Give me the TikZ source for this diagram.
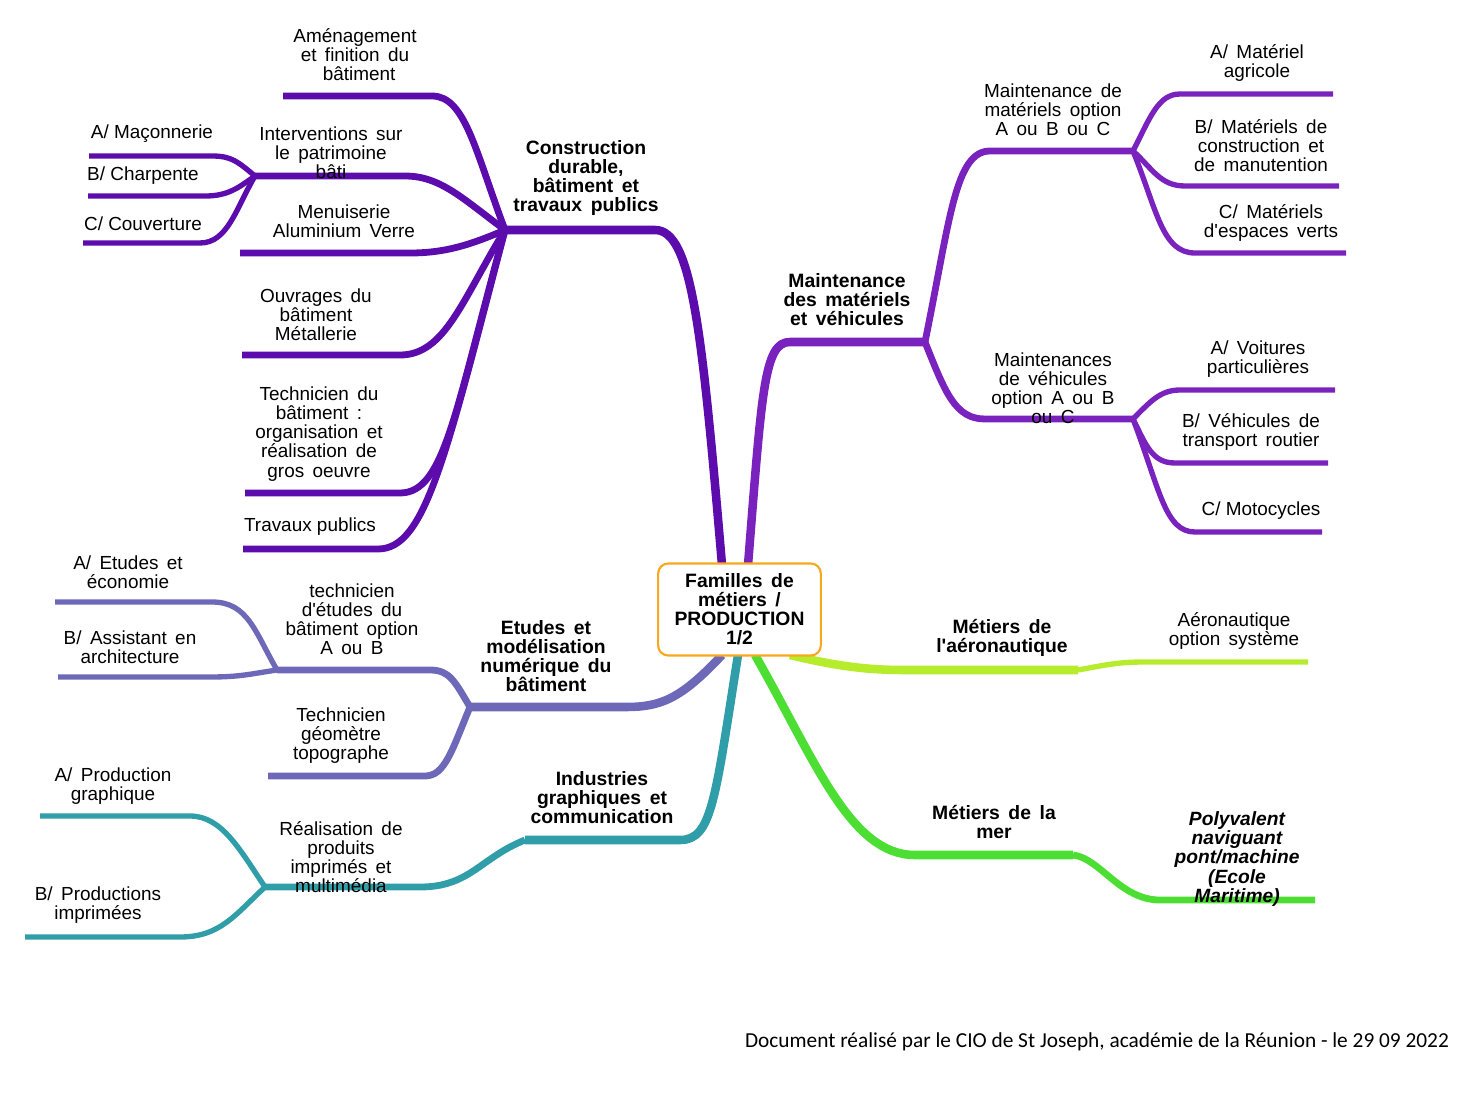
\documentclass[tikz,border=0pt]{standalone}
\usepackage{fontspec}
\setmainfont{Liberation Sans}
\newfontfamily\lab[WordSpace=1.6]{Liberation Sans}
\newfontfamily\labn[Scale=0.9995]{Liberation Sans}
\newfontfamily\footfont{Carlito}
\definecolor{cC}{RGB}{92,12,172}
\definecolor{cM}{RGB}{122,34,190}
\definecolor{cE}{RGB}{110,104,184}
\definecolor{cT}{RGB}{48,158,168}
\definecolor{cA}{RGB}{182,236,44}
\definecolor{cG}{RGB}{76,222,50}
\definecolor{cO}{RGB}{246,168,30}
\tikzset{
  lbl/.style={font=\lab\fontsize{14.2}{14.3}\selectfont, align=center, inner sep=0pt, text=black, yshift=-1.5pt},
  lbln/.style={font=\labn\fontsize{14.2}{14.3}\selectfont, align=center, inner sep=0pt, text=black, yshift=-1.5pt},
  blbl/.style={font=\lab\bfseries\fontsize{14.5}{14.3}\selectfont, align=center, inner sep=0pt, text=black, yshift=-1.5pt},
  bilbl/.style={font=\lab\bfseries\itshape\fontsize{14.4}{14.3}\selectfont, align=center, inner sep=0pt, text=black, yshift=-1.5pt},
  mainline/.style={line width=6.4pt, line join=round},
  subline/.style={line width=5.1pt, line join=round},
  leafline/.style={line width=4pt, line join=round},
  rootbox/.style={draw=cO, line width=1.6pt, rounded corners=7.5pt, fill=white, minimum width=122pt, minimum height=69pt, inner sep=0pt},
}
\begin{document}
\begin{tikzpicture}[x=0.75pt,y=-0.75pt]
\useasboundingbox (0,0) rectangle (1479,1096);
% ---------- coordinates ----------
\coordinate (rC) at (722,565);
\coordinate (rM) at (748,565);
\coordinate (rA) at (790,655);
\coordinate (rG) at (755,655);
\coordinate (rE) at (722,655);
\coordinate (rT) at (738,655);
% Construction
\coordinate (hC) at (505,230);
\coordinate (bC) at (655,230);
\coordinate (hInt) at (255,176);
% Maintenance
\coordinate (hM) at (925,342);
\coordinate (bM) at (790,342);
\coordinate (hM1) at (1133,151);
\coordinate (hM2) at (1133,419);
% Aero
\coordinate (hA) at (1078,670);
% Mer
\coordinate (hG) at (1073,855);
% Etudes
\coordinate (hE) at (470,707);
\coordinate (hE1) at (277,670);
% Industries
\coordinate (hT) at (525,840);
\coordinate (hT1) at (265,887);

% ---------- Construction ----------
\draw[cC,mainline] (rC) .. controls (702,330) and (692,230) .. (bC) -- (hC);
\coordinate (eAm) at (283,96);
\coordinate (eIn) at (405,176);
\coordinate (eMe) at (240,253);
\coordinate (eOu) at (242,355);
\coordinate (eTe) at (245,493);
\coordinate (eTr) at (243,549);
\draw[cC,subline] (hC) .. controls (475,150) and (465,96) .. (432,96) -- (eAm);
\draw[cC,subline] (hC) .. controls (462,198) and (440,176) .. (eIn) -- (hInt);
\draw[cC,subline] (hC) .. controls (470,245) and (445,253) .. (410,253) -- (eMe);
\draw[cC,subline] (hC) .. controls (462,300) and (445,355) .. (400,355) -- (eOu);
\draw[cC,subline] (hC) .. controls (455,410) and (445,493) .. (400,493) -- (eTe);
\draw[cC,subline] (hC) .. controls (445,460) and (425,549) .. (378,549) -- (eTr);
\coordinate (eMa) at (89,156);
\coordinate (eCh) at (88,196);
\coordinate (eCo) at (83,243);
\draw[cC,leafline] (hInt) .. controls (238,162) and (232,156) .. (212,156) -- (eMa);
\draw[cC,leafline] (hInt) .. controls (238,188) and (228,196) .. (205,196) -- (eCh);
\draw[cC,leafline] (hInt) .. controls (236,208) and (228,243) .. (200,243) -- (eCo);

% ---------- Maintenance ----------
\draw[cM,mainline] (rM) .. controls (762,390) and (764,342) .. (bM) -- (hM);
\draw[cM,subline] (hM) .. controls (950,220) and (955,151) .. (990,151) -- (hM1);
\draw[cM,subline] (hM) .. controls (945,392) and (955,419) .. (985,419) -- (hM2);
\coordinate (eMA) at (1333,94);
\coordinate (eMB) at (1339,186);
\coordinate (eMC) at (1346,253);
\draw[cM,leafline] (hM1) .. controls (1150,118) and (1158,94) .. (1180,94) -- (eMA);
\draw[cM,leafline] (hM1) .. controls (1152,168) and (1160,186) .. (1185,186) -- (eMB);
\draw[cM,leafline] (hM1) .. controls (1157,210) and (1162,253) .. (1195,253) -- (eMC);
\coordinate (eVA) at (1335,390);
\coordinate (eVB) at (1328,463);
\coordinate (eVC) at (1322,532);
\draw[cM,leafline] (hM2) .. controls (1150,402) and (1160,390) .. (1180,390) -- (eVA);
\draw[cM,leafline] (hM2) .. controls (1146,445) and (1152,463) .. (1175,463) -- (eVB);
\draw[cM,leafline] (hM2) .. controls (1160,490) and (1165,532) .. (1195,532) -- (eVC);

% ---------- Aeronautique ----------
\draw[cA,mainline] (rA) .. controls (840,667) and (870,670) .. (905,670) -- (hA);
\coordinate (eAe) at (1308,662);
\draw[cA,leafline] (hA) .. controls (1110,664) and (1120,662) .. (1145,662) -- (eAe);

% ---------- Mer ----------
\draw[cG,mainline] (rG) .. controls (815,760) and (850,855) .. (915,855) -- (hG);
\coordinate (ePo) at (1315,900);
\draw[cG,subline] (hG) .. controls (1100,858) and (1120,900) .. (1160,900) -- (ePo);

% ---------- Etudes ----------
\draw[cE,mainline] (rE) .. controls (680,700) and (660,707) .. (625,707) -- (hE);
\coordinate (eGe) at (268,776);
\draw[cE,subline] (hE) .. controls (455,682) and (450,670) .. (430,670) -- (hE1);
\draw[cE,subline] (hE) .. controls (452,750) and (445,776) .. (425,776) -- (eGe);
\coordinate (eEA) at (55,602);
\coordinate (eEB) at (58,677);
\draw[cE,leafline] (hE1) .. controls (255,632) and (248,602) .. (212,602) -- (eEA);
\draw[cE,leafline] (hE1) .. controls (250,674) and (240,677) .. (210,677) -- (eEB);

% ---------- Industries ----------
\draw[cT,mainline] (rT) .. controls (715,800) and (712,840) .. (680,840) -- (hT);
\draw[cT,subline] (hT) .. controls (480,858) and (470,887) .. (420,887) -- (hT1);
\coordinate (eIA) at (40,816);
\coordinate (eIB) at (25,937);
\draw[cT,leafline] (hT1) .. controls (240,850) and (222,816) .. (190,816) -- (eIA);
\draw[cT,leafline] (hT1) .. controls (235,915) and (220,937) .. (180,937) -- (eIB);

% ---------- root ----------
\node[rootbox, blbl, yshift=1.5pt] (root) at (739.5,609.5) {Familles de\\métiers /\\PRODUCTION\\1/2};

% ---------- labels ----------
\node[blbl] (lC) at (586,176) {Construction\\durable,\\bâtiment et\\travaux publics};
\node[lbl] (lAm) at (355,53) {Aménagement\\et finition du\\\ bâtiment};
\node[lbl] (lIn) at (331,151) {Interventions sur\\le patrimoine\\bâti};
\node[lbl] (lMe) at (344,219) {Menuiserie\\Aluminium Verre};
\node[lbl] (lOu) at (316,313) {Ouvrages du\\bâtiment\\Métallerie};
\node[lbl] (lTe) at (319,432) {Technicien du\\bâtiment :\\organisation et\\réalisation de\\gros oeuvre};
\node[lbln] (lTr) at (310,525) {Travaux publics};
\node[lbln] (lMa) at (152,132) {A/ Maçonnerie};
\node[lbln] (lCh) at (143,174) {B/ Charpente};
\node[lbln] (lCo) at (143,222) {C/ Couverture};

\node[blbl] (lM) at (847,298) {Maintenance\\des matériels\\et véhicules};
\node[lbl] (lM1) at (1053,108) {Maintenance de\\matériels option\\A ou B ou C};
\node[lbl] (lMA) at (1257,61) {A/ Matériel\\agricole};
\node[lbl] (lMB) at (1261,144) {B/ Matériels de\\construction et\\de manutention};
\node[lbl] (lMC) at (1271,221) {C/ Matériels\\d'espaces verts};
\node[lbl] (lM2) at (1053,386) {Maintenances\\de véhicules\\option A ou B\\ou C};
\node[lbl] (lVA) at (1258,357) {A/ Voitures\\particulières};
\node[lbl] (lVB) at (1251,430) {B/ Véhicules de\\transport routier};
\node[lbln] (lVC) at (1261,509) {C/ Motocycles};

\node[blbl] (lA) at (1002,636) {Métiers de\\l'aéronautique};
\node[lbl] (lAe) at (1234,629) {Aéronautique\\option système};
\node[blbl] (lG) at (994,820) {Métiers de la\\mer};
\node[bilbl] (lPo) at (1237,857) {Polyvalent\\naviguant\\pont/machine\\(Ecole\\Maritime)};

\node[blbl] (lE) at (546,654) {Etudes et\\modélisation\\numérique du\\bâtiment};
\node[lbl] (lE1) at (352,617) {technicien\\d'études du\\bâtiment option\\A ou B};
\node[lbl] (lEA) at (128,570) {A/ Etudes et\\économie};
\node[lbl] (lEB) at (130,645) {B/ Assistant en\\architecture};
\node[lbl] (lGe) at (341,734) {Technicien\\géomètre\\topographe};

\node[blbl] (lT) at (602,796) {Industries\\graphiques et\\communication};
\node[lbl] (lT1) at (341,855) {Réalisation de\\produits\\imprimés et\\multimédia};
\node[lbl] (lIA) at (113,784) {A/ Production\\graphique};
\node[lbl] (lIB) at (98,903) {B/ Productions\\imprimées};

\node[font=\footfont\fontsize{16}{18}\selectfont, inner sep=0pt] (foot) at (1097,1042) {Document réalisé par le CIO de St Joseph, académie de la Réunion - le 29 09 2022};
\end{tikzpicture}
\end{document}
